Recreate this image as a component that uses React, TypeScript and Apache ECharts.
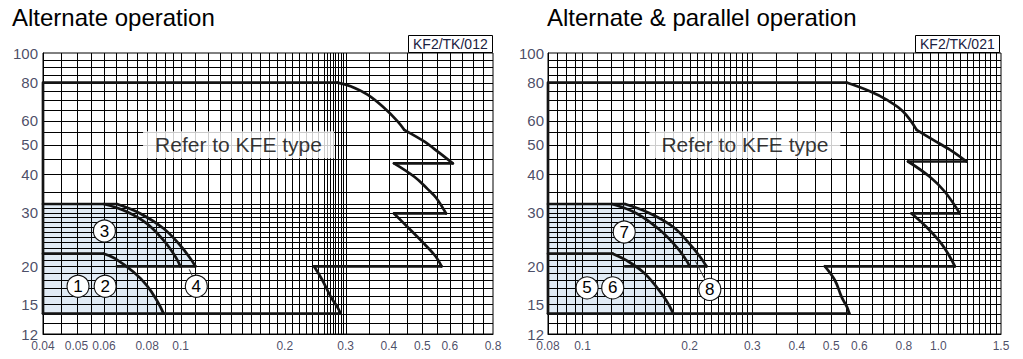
import React, { useEffect, useRef } from 'react';
import * as echarts from 'echarts';

type P = [number, number];

const FONT = '"Liberation Sans", Arial, sans-serif';
const TICK_COLOR = '#1a2040';
const LINE_COLOR = '#141414';
const FILL_COLOR = '#e1ebf5';

const Y_MIN = 12;
const Y_MAX = 100;
const L_X_MIN = 0.04;
const L_X_MAX = 0.8;
const R_X_MIN = 0.08;
const R_X_MAX = 1.5;

const Y_TICKS = [12, 15, 20, 30, 40, 50, 60, 80, 100];
const L_X_TICKS = [0.04, 0.05, 0.06, 0.08, 0.1, 0.2, 0.3, 0.4, 0.5, 0.6, 0.8];
const L_X_LABELS = ['0.04', '0.05', '0.06', '0.08', '0.1', '0.2', '0.3', '0.4', '0.5', '0.6', '0.8'];
const R_X_TICKS = [0.08, 0.1, 0.2, 0.3, 0.4, 0.5, 0.6, 0.8, 1.0, 1.5];
const R_X_LABELS = ['0.08', '0.1', '0.2', '0.3', '0.4', '0.5', '0.6', '0.8', '1.0', '1.5'];

// grid paper lines
const Y_GRID = [13, 14, 15, 16, 17, 18, 19, 20, 21, 22, 23, 24, 25, 26, 27, 28, 29, 30, 31, 32,
  35, 40, 45, 50, 55, 60, 65, 70, 75, 80, 85, 90, 95];
const L_X_GRID = [0.045, 0.05, 0.055, 0.06, 0.065, 0.07, 0.075, 0.08, 0.085, 0.09, 0.095, 0.1,
  0.11, 0.12, 0.13, 0.14, 0.15, 0.16, 0.17, 0.18, 0.19, 0.2, 0.21, 0.22, 0.23, 0.24, 0.25, 0.26,
  0.265, 0.27, 0.275, 0.28, 0.285, 0.29, 0.295, 0.3,
  0.35, 0.4, 0.45, 0.5, 0.55, 0.6, 0.65, 0.7, 0.75];
const R_X_GRID = [0.085, 0.09, 0.095, 0.1, 0.11, 0.12, 0.13, 0.14, 0.15, 0.16, 0.17, 0.18, 0.19,
  0.2, 0.21, 0.22, 0.23, 0.24, 0.25, 0.26, 0.27, 0.28, 0.29, 0.3, 0.35, 0.4, 0.45, 0.5, 0.55,
  0.6, 0.65, 0.7, 0.75, 0.8, 0.85, 0.9, 0.95, 1.0, 1.05, 1.1, 1.15, 1.2, 1.25, 1.3, 1.35, 1.4, 1.45];

// ---- Left chart (Alternate operation) ----
const L_TOP: P[] = [[0.04, 14], [0.04, 80], [0.284, 80]];
const L_CURVE1: P[] = [[0.284, 80], [0.31, 77.8], [0.347, 73], [0.388, 66], [0.424, 59.7], [0.443, 56]];
const L_CURVE1B: P[] = [[0.443, 56], [0.506, 51.3], [0.554, 47.5], [0.612, 43.5]];
const L_STEP1: P[] = [[0.612, 43.5], [0.414, 43.5]];
const L_CURVE2: P[] = [[0.414, 43.5], [0.474, 39.3], [0.518, 35.8], [0.547, 33.6], [0.585, 29.8]];
const L_STEP2: P[] = [[0.585, 29.8], [0.414, 29.8]];
const L_CURVE3: P[] = [[0.414, 29.8], [0.453, 26.9], [0.506, 23.7], [0.547, 21.5], [0.568, 20]];
const L_STEP3: P[] = [[0.568, 20], [0.243, 20]];
const L_CURVE4: P[] = [[0.243, 20], [0.257, 18], [0.272, 15.85], [0.284, 14.7], [0.29, 14]];
const L_BOTTOM: P[] = [[0.29, 14], [0.04, 14]];

const L_BOX_TOP: P[] = [[0.04, 32], [0.0654, 32]];
const L_C3: P[] = [[0.06, 32], [0.0699, 30.2], [0.0799, 27.6], [0.0893, 24.3], [0.0966, 21.5], [0.0998, 20]];
const L_C4: P[] = [[0.0654, 32], [0.0764, 29.8], [0.0893, 26.6], [0.0998, 23.4], [0.1067, 21.2], [0.1103, 20]];
const L_BOX20: P[] = [[0.0654, 20], [0.1103, 20]];
const L_BOX_MID: P[] = [[0.04, 22], [0.06, 22]];
const L_C12: P[] = [[0.06, 22], [0.0647, 21.2], [0.0731, 19.15], [0.0799, 17.3], [0.0854, 15.45], [0.0893, 14]];
const L_FILL: P[] = [[0.04, 14], [0.0893, 14], [0.0854, 15.45], [0.0799, 17.3], [0.0731, 19.15], [0.07, 20],
  [0.1103, 20], [0.1067, 21.2], [0.0998, 23.4], [0.0893, 26.6], [0.0764, 29.8], [0.0654, 32], [0.04, 32]];
const L_LEADER: P[] = [[0.106, 19.5], [0.1086, 18.4]];

const L_MARK_X = [0.0505, 0.0605, 0.0602, 0.111];
const L_MARK_Y = [17.2, 17.2, 26.1, 17.2];
const L_MARK_TEXT = ['1', '2', '3', '4'];
const L_NOTE: P = [0.147, 50];

// ---- Right chart (Alternate & parallel operation) ----
const R_TOP: P[] = [[0.08, 14], [0.08, 80], [0.552, 80]];
const R_CURVE1: P[] = [[0.552, 80], [0.642, 74.9], [0.715, 70.3], [0.796, 64.3], [0.869, 56]];
const R_CURVE1B: P[] = [[0.869, 56], [0.967, 51.9], [1.077, 48.2], [1.2, 44.1]];
const R_STEP1: P[] = [[1.2, 44.1], [0.822, 44.1]];
const R_CURVE2: P[] = [[0.822, 44.1], [0.946, 39.3], [1.043, 35.1], [1.149, 29.8]];
const R_STEP2: P[] = [[1.149, 29.8], [0.841, 29.8]];
const R_CURVE3: P[] = [[0.841, 29.8], [0.926, 26.9], [1.021, 23.7], [1.077, 21.5], [1.113, 20]];
const R_STEP3: P[] = [[1.113, 20], [0.48, 20]];
const R_CURVE4: P[] = [[0.48, 20], [0.512, 18], [0.535, 15.85], [0.554, 14.7], [0.562, 14]];
const R_BOTTOM: P[] = [[0.562, 14], [0.08, 14]];

const R_BOX_TOP: P[] = [[0.08, 32], [0.1316, 32]];
const R_C7: P[] = [[0.121, 32], [0.142, 29.8], [0.165, 26.3], [0.184, 23.1], [0.196, 20.9], [0.2, 20]];
const R_C8: P[] = [[0.1316, 32], [0.155, 29.8], [0.18, 26.9], [0.2, 23.7], [0.214, 21.5], [0.223, 20]];
const R_BOX20: P[] = [[0.1316, 20], [0.223, 20]];
const R_BOX_MID: P[] = [[0.08, 22], [0.1216, 22]];
const R_C56: P[] = [[0.1216, 22], [0.133, 20.9], [0.148, 19.15], [0.1616, 17.1], [0.172, 15.45], [0.18, 14]];
const R_FILL: P[] = [[0.08, 14], [0.18, 14], [0.172, 15.45], [0.1616, 17.1], [0.148, 19.15], [0.141, 20],
  [0.223, 20], [0.214, 21.5], [0.2, 23.7], [0.18, 26.9], [0.155, 29.8], [0.1316, 32], [0.08, 32]];
const R_LEADER: P[] = [[0.208, 20.7], [0.221, 18.1]];

const R_MARK_X = [0.103, 0.1216, 0.131, 0.228];
const R_MARK_Y = [17.0, 17.0, 25.9, 16.8];
const R_MARK_TEXT = ['5', '6', '7', '8'];
const R_NOTE: P = [0.286, 50];

function line(data: P[], gi: number, smooth: number | boolean, width = 2.7, color = LINE_COLOR) {
  return {
    type: 'line', xAxisIndex: gi, yAxisIndex: gi, data, symbol: 'none', smooth, clip: false,
    silent: true, z: 4, lineStyle: { color, width, cap: 'round', join: 'round' },
  };
}

function vGrid(vals: number[], gi: number) {
  return {
    type: 'custom', xAxisIndex: gi, yAxisIndex: gi, silent: true, z: 2, clip: false,
    data: vals.map((v) => [v, 50]),
    renderItem: (_p: any, api: any) => {
      const a = api.coord([api.value(0), Y_MIN]);
      const b = api.coord([api.value(0), Y_MAX]);
      const x = Math.round(a[0]) + 0.5;
      return { type: 'line', shape: { x1: x, y1: a[1], x2: x, y2: b[1] }, style: { stroke: '#000', lineWidth: 1 } };
    },
  };
}

function hGrid(vals: number[], gi: number, xmin: number, xmax: number) {
  return {
    type: 'custom', xAxisIndex: gi, yAxisIndex: gi, silent: true, z: 2, clip: false,
    data: vals.map((v) => [xmin * 2, v]),
    renderItem: (_p: any, api: any) => {
      const a = api.coord([xmin, api.value(1)]);
      const b = api.coord([xmax, api.value(1)]);
      const y = Math.round(a[1]) + 0.5;
      return { type: 'line', shape: { x1: a[0], y1: y, x2: b[0], y2: y }, style: { stroke: '#000', lineWidth: 1 } };
    },
  };
}

function fill(points: P[], gi: number) {
  return {
    type: 'custom', xAxisIndex: gi, yAxisIndex: gi, silent: true, z: 1, clip: false,
    data: [points[0]],
    renderItem: (_p: any, api: any) => ({
      type: 'polygon',
      shape: { points: points.map((p) => api.coord(p)) },
      style: { fill: FILL_COLOR, stroke: 'none' },
    }),
  };
}

function tickLabels(xs: number[], ys: number[], texts: string[], gi: number, pos: string, dist: number, fontSize: number) {
  return {
    type: 'scatter', xAxisIndex: gi, yAxisIndex: gi, silent: true, z: 6, clip: false,
    symbolSize: 0, data: xs.map((x, i) => [x, ys[i]]),
    label: {
      show: true, position: pos, distance: dist, formatter: (p: any) => texts[p.dataIndex],
      fontSize, fontFamily: FONT, color: TICK_COLOR, textBorderWidth: 0,
    },
  };
}

function marks(xs: number[], ys: number[], texts: string[], gi: number) {
  return {
    type: 'scatter', xAxisIndex: gi, yAxisIndex: gi, silent: true, z: 7, clip: false,
    symbol: 'circle', symbolSize: 22, data: xs.map((x, i) => [x, ys[i]]),
    itemStyle: { color: '#fff', borderColor: '#111', borderWidth: 1.1, opacity: 1 },
    label: {
      show: true, position: 'inside', formatter: (p: any) => texts[p.dataIndex],
      fontSize: 17, fontFamily: FONT, color: '#000', textBorderWidth: 0,
    },
  };
}

function note(pt: P, gi: number) {
  return {
    type: 'scatter', xAxisIndex: gi, yAxisIndex: gi, silent: true, z: 6, clip: false,
    symbolSize: 0, data: [pt],
    label: {
      show: true, position: 'inside', formatter: 'Refer to KFE type', fontSize: 21, fontFamily: FONT,
      color: '#000', textBorderWidth: 0, backgroundColor: '#fff', padding: [3, 12],
    },
  };
}

export default function App() {
  const ref = useRef<HTMLDivElement>(null);
  useEffect(() => {
    if (!ref.current) return;
    const chart = echarts.init(ref.current, undefined, { renderer: 'svg' });
    const axisCommon = {
      type: 'log', logBase: 10,
      axisLabel: { show: false }, axisTick: { show: false }, splitLine: { show: false },
      axisLine: { show: true, lineStyle: { color: '#000', width: 1 } },
    };
    const Lx = L_X_TICKS.map(() => Y_MIN);
    const Ly = Y_TICKS.map(() => L_X_MIN);
    const Rx = R_X_TICKS.map(() => Y_MIN);
    const Ry = Y_TICKS.map(() => R_X_MIN);
    const yTexts = Y_TICKS.map((v) => String(v));
    chart.setOption({
      animation: false,
      backgroundColor: '#fff',
      textStyle: { fontFamily: FONT },
      title: [
        { text: 'Alternate operation', left: 12, top: 5, padding: 0, textStyle: { fontSize: 24, fontWeight: 'normal', color: '#000', fontFamily: FONT } },
        { text: 'Alternate & parallel operation', left: 547, top: 5, padding: 0, textStyle: { fontSize: 24, fontWeight: 'normal', color: '#000', fontFamily: FONT } },
        { text: 'KF2/TK/012', left: 408, top: 35, padding: [1, 5], borderColor: '#000', borderWidth: 1, textStyle: { fontSize: 14, lineHeight: 16, fontWeight: 'normal', color: TICK_COLOR, fontFamily: FONT } },
        { text: 'KF2/TK/021', left: 915, top: 35, padding: [1, 5], borderColor: '#000', borderWidth: 1, textStyle: { fontSize: 14, lineHeight: 16, fontWeight: 'normal', color: TICK_COLOR, fontFamily: FONT } },
      ],
      grid: [
        { left: 43, top: 53, width: 450, height: 281, show: true, borderColor: '#000', borderWidth: 1, backgroundColor: 'transparent' },
        { left: 548, top: 53, width: 453, height: 281, show: true, borderColor: '#000', borderWidth: 1, backgroundColor: 'transparent' },
      ],
      xAxis: [
        { ...axisCommon, gridIndex: 0, min: L_X_MIN, max: L_X_MAX },
        { ...axisCommon, gridIndex: 1, min: R_X_MIN, max: R_X_MAX },
      ],
      yAxis: [
        { ...axisCommon, gridIndex: 0, min: Y_MIN, max: Y_MAX },
        { ...axisCommon, gridIndex: 1, min: Y_MIN, max: Y_MAX },
      ],
      series: [
        fill(L_FILL, 0),
        fill(R_FILL, 1),
        vGrid(L_X_GRID, 0),
        hGrid(Y_GRID, 0, L_X_MIN, L_X_MAX),
        vGrid(R_X_GRID, 1),
        hGrid(Y_GRID, 1, R_X_MIN, R_X_MAX),
        // left outlines
        line(L_TOP, 0, false),
        line(L_CURVE1, 0, 0.4),
        line(L_CURVE1B, 0, 0.3),
        line(L_STEP1, 0, false),
        line(L_CURVE2, 0, 0.4),
        line(L_STEP2, 0, false),
        line(L_CURVE3, 0, 0.4),
        line(L_STEP3, 0, false),
        line(L_CURVE4, 0, 0.4),
        line(L_BOTTOM, 0, false),
        line(L_BOX_TOP, 0, false),
        line(L_C3, 0, 0.4),
        line(L_C4, 0, 0.4),
        line(L_BOX20, 0, false),
        line(L_BOX_MID, 0, false),
        line(L_C12, 0, 0.4),
        line(L_LEADER, 0, false, 1, '#333'),
        // right outlines
        line(R_TOP, 1, false),
        line(R_CURVE1, 1, 0.4),
        line(R_CURVE1B, 1, 0.3),
        line(R_STEP1, 1, false),
        line(R_CURVE2, 1, 0.4),
        line(R_STEP2, 1, false),
        line(R_CURVE3, 1, 0.4),
        line(R_STEP3, 1, false),
        line(R_CURVE4, 1, 0.4),
        line(R_BOTTOM, 1, false),
        line(R_BOX_TOP, 1, false),
        line(R_C7, 1, 0.4),
        line(R_C8, 1, 0.4),
        line(R_BOX20, 1, false),
        line(R_BOX_MID, 1, false),
        line(R_C56, 1, 0.4),
        line(R_LEADER, 1, false, 1, '#333'),
        // labels
        tickLabels(L_X_TICKS, Lx, L_X_LABELS, 0, 'bottom', 6, 12),
        tickLabels(Ly, Y_TICKS, yTexts, 0, 'left', 5, 15),
        tickLabels(R_X_TICKS, Rx, R_X_LABELS, 1, 'bottom', 6, 12),
        tickLabels(Ry, Y_TICKS, yTexts, 1, 'left', 4, 15),
        note(L_NOTE, 0),
        note(R_NOTE, 1),
        marks(L_MARK_X, L_MARK_Y, L_MARK_TEXT, 0),
        marks(R_MARK_X, R_MARK_Y, R_MARK_TEXT, 1),
      ],
    });
    return () => chart.dispose();
  }, []);
  return <div ref={ref} style={{ position: 'fixed', left: 0, top: 0, width: 1023, height: 359 }} />;
}
